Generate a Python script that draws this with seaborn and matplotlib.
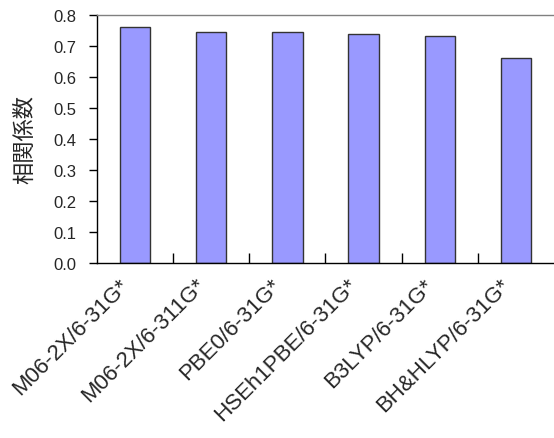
import matplotlib
matplotlib.use("Agg")
import matplotlib.pyplot as plt
import matplotlib.transforms as mtransforms
from matplotlib.ticker import FixedLocator, FormatStrFormatter
import seaborn as sns
import pandas as pd

methods = ["M06-2X/6-31G*", "M06-2X/6-311G*", "PBE0/6-31G*",
           "HSEh1PBE/6-31G*", "B3LYP/6-31G*", "BH&HLYP/6-31G*"]
corr = [0.760, 0.746, 0.744, 0.740, 0.733, 0.660]

sns.set_theme(style="white")
plt.rcParams['font.family'] = ['Liberation Sans', 'Noto Sans CJK JP', 'DejaVu Sans']

df = pd.DataFrame({"method": methods, "corr": corr})

fig = plt.figure(figsize=(5.54, 4.39), dpi=100)
ax = fig.add_axes([97 / 554, 1 - 264 / 439, 457 / 554, 248 / 439])
sns.barplot(data=df, x="method", y="corr", color="#9999FF", saturation=1,
            width=0.4, edgecolor="#333333", linewidth=1.0, ax=ax)

ax.set_xlim(-0.5, len(methods) - 0.5)
ax.set_ylim(0, 0.8)
ax.set_yticks([0, 0.1, 0.2, 0.3, 0.4, 0.5, 0.6, 0.7, 0.8])
ax.yaxis.set_major_formatter(FormatStrFormatter('%.1f'))
ax.tick_params(axis='y', direction='out', length=6, width=1, color='black',
               pad=9, labelsize=12, left=True)

# category boundary ticks pointing inward, labels at centres
ax.xaxis.set_minor_locator(FixedLocator([i + 0.5 for i in range(len(methods) - 1)]))
ax.tick_params(axis='x', which='minor', direction='in', length=7, width=1,
               color='black', bottom=True)
ax.tick_params(axis='x', which='major', length=0, pad=8, labelsize=16)
plt.setp(ax.get_xticklabels(), rotation=45, ha='right')
offset = mtransforms.ScaledTranslation(-0.02, 0, fig.dpi_scale_trans)
for lab in ax.get_xticklabels():
    lab.set_transform(lab.get_transform() + offset)

for side in ["left", "bottom"]:
    ax.spines[side].set_color("black")
    ax.spines[side].set_linewidth(1.0)
ax.spines["top"].set_color("#808080")
ax.spines["top"].set_linewidth(1.0)
ax.spines["right"].set_visible(False)

ax.set_xlabel("")
ax.set_ylabel("相関係数", fontsize=16, family=['Noto Sans CJK JP'], labelpad=12)

fig.savefig("out.png", dpi=100)
